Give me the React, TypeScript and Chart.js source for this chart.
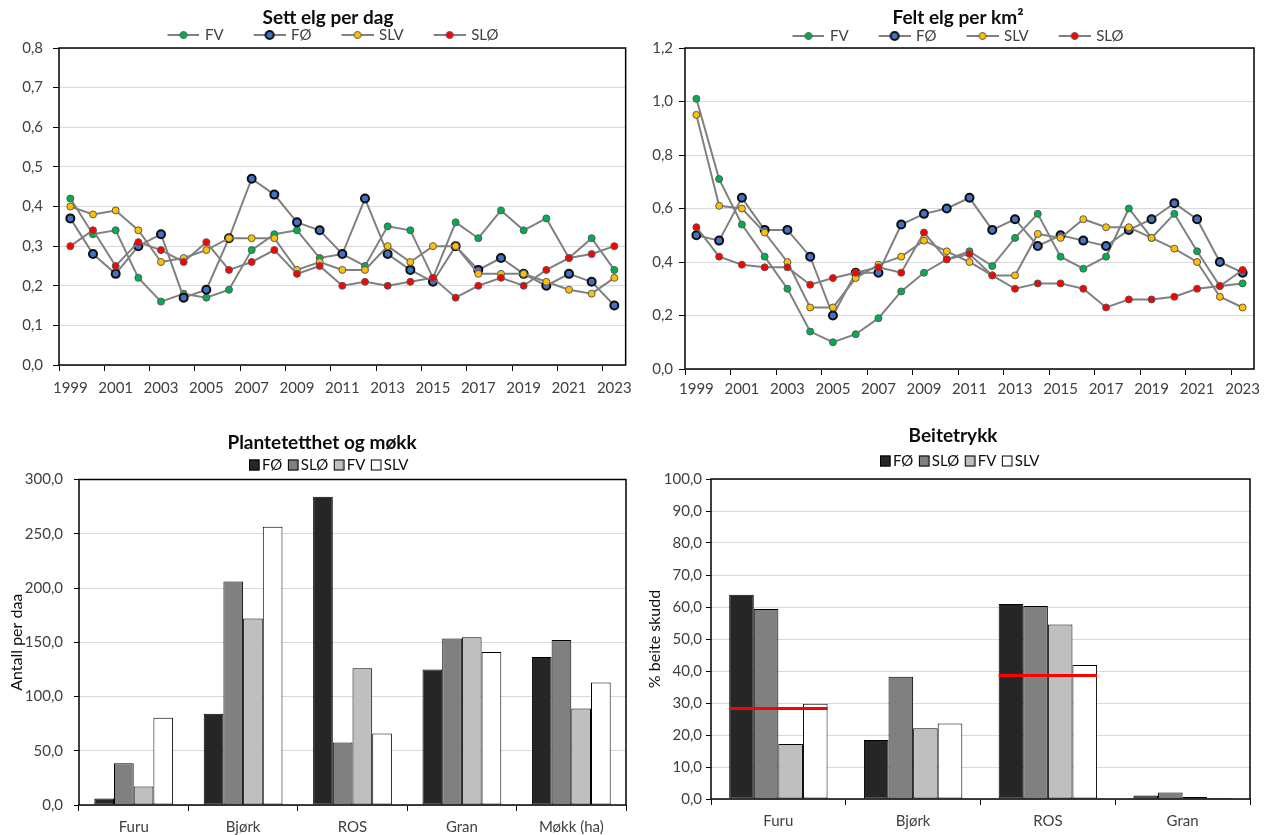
import React, { useEffect, useRef } from 'react';
import { Chart, registerables } from 'chart.js';

Chart.register(...registerables);
Chart.defaults.font.family = 'Lato, "Noto Sans", sans-serif';
Chart.defaults.color = '#404040';

// ---------- data ----------
const years = ['1999', '2000', '2001', '2002', '2003', '2004', '2005', '2006', '2007', '2008', '2009', '2010', '2011', '2012', '2013', '2014', '2015', '2016', '2017', '2018', '2019', '2020', '2021', '2022', '2023'];

// Sett elg per dag
const settFV = [0.42, 0.33, 0.34, 0.22, 0.16, 0.18, 0.17, 0.19, 0.29, 0.33, 0.34, 0.27, 0.28, 0.25, 0.35, 0.34, 0.22, 0.36, 0.32, 0.39, 0.34, 0.37, 0.27, 0.32, 0.24];
const settFO = [0.37, 0.28, 0.23, 0.30, 0.33, 0.17, 0.19, 0.32, 0.47, 0.43, 0.36, 0.34, 0.28, 0.42, 0.28, 0.24, 0.21, 0.30, 0.24, 0.27, 0.23, 0.20, 0.23, 0.21, 0.15];
const settSLV = [0.40, 0.38, 0.39, 0.34, 0.26, 0.27, 0.29, 0.32, 0.32, 0.32, 0.24, 0.26, 0.24, 0.24, 0.30, 0.26, 0.30, 0.30, 0.23, 0.23, 0.23, 0.21, 0.19, 0.18, 0.22];
const settSLO = [0.30, 0.34, 0.25, 0.31, 0.29, 0.26, 0.31, 0.24, 0.26, 0.29, 0.23, 0.25, 0.20, 0.21, 0.20, 0.21, 0.22, 0.17, 0.20, 0.22, 0.20, 0.24, 0.27, 0.28, 0.30];

// Felt elg per km2
const feltFV = [1.01, 0.71, 0.54, 0.42, 0.30, 0.14, 0.10, 0.13, 0.19, 0.29, 0.36, 0.41, 0.44, 0.385, 0.49, 0.58, 0.42, 0.375, 0.42, 0.60, 0.49, 0.58, 0.44, 0.31, 0.32];
const feltFO = [0.50, 0.48, 0.64, 0.52, 0.52, 0.42, 0.20, 0.36, 0.36, 0.54, 0.58, 0.60, 0.64, 0.52, 0.56, 0.46, 0.50, 0.48, 0.46, 0.52, 0.56, 0.62, 0.56, 0.40, 0.36];
const feltSLV = [0.95, 0.61, 0.60, 0.51, 0.40, 0.23, 0.23, 0.34, 0.39, 0.42, 0.48, 0.44, 0.40, 0.35, 0.35, 0.505, 0.49, 0.56, 0.53, 0.53, 0.49, 0.45, 0.40, 0.27, 0.23];
const feltSLO = [0.53, 0.42, 0.39, 0.38, 0.38, 0.315, 0.34, 0.36, 0.38, 0.36, 0.51, 0.41, 0.43, 0.35, 0.30, 0.32, 0.32, 0.30, 0.23, 0.26, 0.26, 0.27, 0.30, 0.31, 0.37];

const lineSeriesNames = ['FV', 'FØ', 'SLV', 'SLØ'];

// Plantetetthet og møkk
const planteKategorier = ['Furu', 'Bjørk', 'ROS', 'Gran', 'Møkk (ha)'];
const planteFO = [6, 84, 284, 125, 136.5];
const planteSLO = [38.5, 206, 57.5, 153.5, 152];
const planteFV = [17, 172, 126, 154.5, 89];
const planteSLV = [80.5, 256.5, 66, 141, 113];

// Beitetrykk
const beiteKategorier = ['Furu', 'Bjørk', 'ROS', 'Gran'];
const beiteFO = [63.8, 18.4, 60.9, 1.1];
const beiteSLO = [59.4, 38.2, 60.3, 2.0];
const beiteFV = [17.2, 22.1, 54.5, 0.6];
const beiteSLV = [29.8, 23.6, 41.9, 0.3];
const beiteSnitt = [28.3, null, 38.6, null];

const barSeriesNames = ['FØ', 'SLØ', 'FV', 'SLV'];

// ---------- styles ----------
const markerStyle: Record<string, { fill: string; border: string; radius: number; bw: number }> = {
  FV: { fill: '#00b050', border: '#595959', radius: 3.5, bw: 1 },
  'FØ': { fill: '#4472c4', border: '#0d0d0d', radius: 4, bw: 2 },
  SLV: { fill: '#ffc000', border: '#595959', radius: 3.5, bw: 1 },
  'SLØ': { fill: '#ff0000', border: '#595959', radius: 3.5, bw: 1 },
};
const barColor: Record<string, string> = { 'FØ': '#262626', 'SLØ': '#808080', FV: '#bfbfbf', SLV: '#ffffff' };

const fmt1 = (v: any) => Number(v).toFixed(1).replace('.', ',');

// ---------- plugins ----------
const framePlugin = {
  id: 'frame',
  beforeDatasetsDraw(chart: any) {
    const { ctx, chartArea: a } = chart;
    ctx.save();
    ctx.strokeStyle = '#000';
    ctx.lineWidth = 1.5;
    ctx.strokeRect(a.left, a.top, a.right - a.left, a.bottom - a.top);
    ctx.restore();
  },
};

const nudgePlugin = {
  id: 'nudge',
  afterLayout(chart: any, _a: any, o: any) {
    const t = chart.titleBlock;
    if (t && o.titleY != null) {
      const h = t.bottom - t.top;
      t.top = o.titleY - h / 2;
      t.bottom = t.top + h;
    }
    if (t && o.titleDx) {
      t.left += o.titleDx;
      t.right += o.titleDx;
    }
    const l = chart.legend;
    if (l && o.legendY != null) {
      const h = l.bottom - l.top;
      l.top = o.legendY - o.legendPad - o.legendFont / 2;
      l.bottom = l.top + h;
    }
    if (l && o.legendDx) {
      l.left += o.legendDx;
      l.right += o.legendDx;
    }
  },
};

const snittPlugin = {
  id: 'snitt',
  afterDatasetsDraw(chart: any, _a: any, o: any) {
    if (!o || !o.values) return;
    const { ctx } = chart;
    const x = chart.scales.x;
    const y = chart.scales.y;
    const n = chart.data.labels.length;
    const half = ((x.right - x.left) / n) * o.categoryPercentage / 2;
    ctx.save();
    ctx.strokeStyle = '#ff0000';
    ctx.lineWidth = 3;
    o.values.forEach((v: number | null, i: number) => {
      if (v == null) return;
      const cx = x.getPixelForValue(i);
      const py = y.getPixelForValue(v);
      ctx.beginPath();
      ctx.moveTo(cx - half, py);
      ctx.lineTo(cx + half, py);
      ctx.stroke();
    });
    ctx.restore();
  },
};

// ---------- legend symbols ----------
function makeMarker(name: string) {
  const s = markerStyle[name];
  const c = document.createElement('canvas');
  c.width = 64;
  c.height = 14;
  const g = c.getContext('2d')!;
  g.strokeStyle = '#808080';
  g.lineWidth = 2;
  g.beginPath();
  g.moveTo(32, 7);
  g.lineTo(64, 7);
  g.stroke();
  g.beginPath();
  g.arc(48, 7, s.radius, 0, Math.PI * 2);
  g.fillStyle = s.fill;
  g.fill();
  g.lineWidth = s.bw;
  g.strokeStyle = s.border;
  g.stroke();
  return c;
}

function makeSwatch(color: string) {
  const c = document.createElement('canvas');
  c.width = 22;
  c.height = 12;
  const g = c.getContext('2d')!;
  g.fillStyle = color;
  g.fillRect(11, 0.5, 10.5, 11);
  g.strokeStyle = '#000';
  g.lineWidth = 1;
  g.strokeRect(11.5, 1, 9.5, 10);
  return c;
}

function lineConfig(p: {
  title: string; series: number[][]; max: number; step: number;
  padRight: number; yWidth: number; xHeight: number; yPad: number; xPad: number;
  titleY: number; titleDx: number; legendY: number; legendDx: number; padTop: number;
}): any {
  const markers = lineSeriesNames.map(makeMarker);
  return {
    type: 'line',
    data: {
      labels: years,
      datasets: lineSeriesNames.map((name, i) => {
        const s = markerStyle[name];
        return {
          label: name,
          data: p.series[i],
          borderColor: '#808080',
          borderWidth: 2,
          tension: 0,
          pointRadius: s.radius,
          pointBackgroundColor: s.fill,
          pointBorderColor: s.border,
          pointBorderWidth: s.bw,
          order: 4 - i,
        };
      }),
    },
    options: {
      responsive: false,
      animation: false,
      events: [],
      layout: { padding: { left: 0, right: p.padRight, top: p.padTop, bottom: 0 } },
      plugins: {
        title: { display: true, text: p.title, color: '#0d0d0d', font: { size: 19, weight: 'bold' }, padding: 0 },
        legend: {
          labels: {
            usePointStyle: true,
            pointStyleWidth: 60,
            padding: 0,
            color: '#404040',
            font: { size: 15 },
            generateLabels: (chart: any) =>
              chart.data.datasets.map((ds: any, i: number) => ({
                text: ds.label,
                pointStyle: markers[i],
                fillStyle: 'rgba(0,0,0,0)',
                strokeStyle: 'rgba(0,0,0,0)',
                lineWidth: 0,
                hidden: false,
                datasetIndex: i,
                fontColor: '#404040',
              })),
          },
        },
        tooltip: { enabled: false },
        nudge: { titleY: p.titleY, titleDx: p.titleDx, legendY: p.legendY, legendDx: p.legendDx, legendPad: 0, legendFont: 15 },
      },
      scales: {
        x: {
          type: 'category',
          offset: true,
          grid: {
            offset: true,
            drawOnChartArea: false,
            tickLength: 6,
            tickColor: (c: any) => (c.index % 2 === 0 ? '#000' : 'rgba(0,0,0,0)'),
          },
          border: { display: false },
          ticks: {
            autoSkip: false,
            maxRotation: 0,
            minRotation: 0,
            padding: p.xPad,
            color: '#404040',
            font: { size: 15 },
            callback: (_v: any, i: number) => (i % 2 === 0 ? years[i] : ''),
          },
          afterFit: (s: any) => { s.height = p.xHeight; },
        },
        y: {
          min: 0,
          max: p.max,
          ticks: { stepSize: p.step, padding: p.yPad, color: '#404040', font: { size: 15 }, callback: fmt1 },
          grid: { color: '#d9d9d9', tickColor: '#000', tickLength: 6 },
          border: { display: false },
          afterFit: (s: any) => { s.width = p.yWidth; },
        },
      },
    },
    plugins: [framePlugin, nudgePlugin],
  };
}

function barConfig(p: {
  title: string; labels: string[]; series: number[][]; max: number; step: number; yTitle: string;
  yTitlePad: number; padRight: number; yWidth: number; xHeight: number; yPad: number; xPad: number;
  titleY: number; titleDx: number; legendY: number; legendDx: number; padTop: number; catPct: number;
  snitt?: (number | null)[];
}): any {
  const swatches = barSeriesNames.map((n) => makeSwatch(barColor[n]));
  return {
    type: 'bar',
    data: {
      labels: p.labels,
      datasets: barSeriesNames.map((name, i) => ({
        label: name,
        data: p.series[i],
        backgroundColor: barColor[name],
        borderColor: '#000',
        borderWidth: 1,
        borderSkipped: false,
        categoryPercentage: p.catPct,
        barPercentage: 1,
      })),
    },
    options: {
      responsive: false,
      animation: false,
      events: [],
      layout: { padding: { left: 0, right: p.padRight, top: p.padTop, bottom: 0 } },
      plugins: {
        title: { display: true, text: p.title, color: '#0d0d0d', font: { size: 19, weight: 'bold' }, padding: 0 },
        legend: {
          labels: {
            usePointStyle: true,
            pointStyleWidth: 11,
            padding: 0,
            color: '#0d0d0d',
            font: { size: 15 },
            generateLabels: (chart: any) =>
              chart.data.datasets.map((ds: any, i: number) => ({
                text: ds.label,
                pointStyle: swatches[i],
                fillStyle: 'rgba(0,0,0,0)',
                strokeStyle: 'rgba(0,0,0,0)',
                lineWidth: 0,
                hidden: false,
                datasetIndex: i,
                fontColor: '#0d0d0d',
              })),
          },
        },
        tooltip: { enabled: false },
        nudge: { titleY: p.titleY, titleDx: p.titleDx, legendY: p.legendY, legendDx: p.legendDx, legendPad: 0, legendFont: 15 },
        snitt: { values: p.snitt, categoryPercentage: p.catPct },
      },
      scales: {
        x: {
          grid: { offset: true, drawOnChartArea: false, tickLength: 6, tickColor: '#000' },
          border: { display: false },
          ticks: { padding: p.xPad, color: '#404040', font: { size: 15 }, maxRotation: 0, autoSkip: false },
          afterFit: (s: any) => { s.height = p.xHeight; },
        },
        y: {
          min: 0,
          max: p.max,
          title: { display: true, text: p.yTitle, color: '#0d0d0d', font: { size: 16 }, padding: { top: p.yTitlePad, bottom: 0 } },
          ticks: { stepSize: p.step, padding: p.yPad, color: '#404040', font: { size: 15 }, callback: fmt1 },
          grid: { color: '#d9d9d9', tickColor: '#000', tickLength: 5 },
          border: { display: false },
          afterFit: (s: any) => { s.width = p.yWidth; },
        },
      },
    },
    plugins: [framePlugin, nudgePlugin, snittPlugin],
  };
}

function ChartBox({ left, top, width, height, build }: { left: number; top: number; width: number; height: number; build: () => any }) {
  const ref = useRef<HTMLCanvasElement>(null);
  useEffect(() => {
    const chart = new Chart(ref.current as HTMLCanvasElement, build());
    return () => chart.destroy();
  }, []);
  return (
    <canvas
      ref={ref}
      width={width}
      height={height}
      style={{ position: 'absolute', left, top, width, height }}
    />
  );
}

export default function App() {
  return (
    <div style={{ position: 'absolute', left: 0, top: 0, width: 1273, height: 835, background: '#fff', overflow: 'hidden' }}>
      <ChartBox
        left={0} top={0} width={640} height={400}
        build={() => lineConfig({
          title: 'Sett elg per dag',
          series: [settFV, settFO, settSLV, settSLO],
          max: 0.8, step: 0.1,
          padRight: 14, yWidth: 59, xHeight: 35, yPad: 10, xPad: 8,
          titleY: 18, titleDx: 15, legendY: 35, legendDx: 5, padTop: 0.2,
        })}
      />
      <ChartBox
        left={640} top={0} width={633} height={400}
        build={() => lineConfig({
          title: 'Felt elg per km²',
          series: [feltFV, feltFO, feltSLV, feltSLO],
          max: 1.2, step: 0.2,
          padRight: 19, yWidth: 45, xHeight: 31, yPad: 6, xPad: 5,
          titleY: 18, titleDx: 11, legendY: 36, legendDx: -4, padTop: 0.2,
        })}
      />
      <ChartBox
        left={0} top={420} width={640} height={415}
        build={() => barConfig({
          title: 'Plantetetthet og møkk',
          labels: planteKategorier,
          series: [planteFO, planteSLO, planteFV, planteSLV],
          max: 300, step: 50, yTitle: 'Antall per daa', yTitlePad: 7,
          padRight: 14, yWidth: 79, xHeight: 30, yPad: 11, xPad: 7,
          titleY: 23, titleDx: 9, legendY: 45, legendDx: 13, padTop: 11.7, catPct: 0.72,
        })}
      />
      <ChartBox
        left={640} top={420} width={633} height={415}
        build={() => barConfig({
          title: 'Beitetrykk',
          labels: beiteKategorier,
          series: [beiteFO, beiteSLO, beiteFV, beiteSLV],
          max: 100, step: 10, yTitle: '% beite skudd', yTitlePad: 5,
          padRight: 23, yWidth: 71, xHeight: 36, yPad: 4, xPad: 7,
          titleY: 16, titleDx: 8, legendY: 41, legendDx: 12, padTop: 11.2, catPct: 0.73,
          snitt: beiteSnitt,
        })}
      />
    </div>
  );
}
